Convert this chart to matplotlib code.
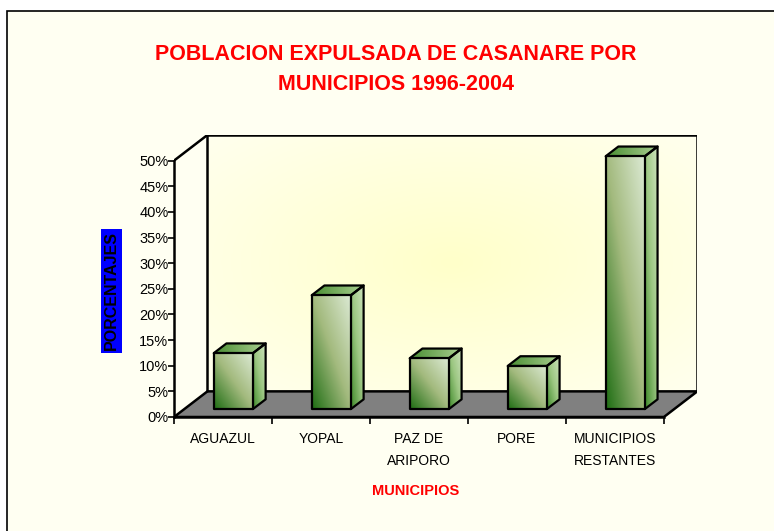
import numpy as np
import matplotlib.pyplot as plt
from matplotlib.patches import Polygon, Rectangle
from matplotlib.colors import LinearSegmentedColormap

# datos
categorias = ["AGUAZUL", "YOPAL", "PAZ DE\nARIPORO", "PORE", "MUNICIPIOS\nRESTANTES"]
porcentajes = [10.9, 22.2, 9.9, 8.4, 49.3]
ticks_y = list(range(0, 55, 5))
etiquetas_y = [f"{t}%" for t in ticks_y]

YMAX = 50
PROF_X = 0.341   # profundidad del piso en unidades de categoria
PROF_Y = 5.0     # profundidad del piso en unidades de %
ANCHO = 0.40
Z0, Z1 = 0.31, 0.69

plt.rcParams['font.family'] = ['Liberation Sans', 'DejaVu Sans']

cm_frente = LinearSegmentedColormap.from_list('frente', ['#1F6E14', '#A3BA7E', '#DDEBD6'])
cm_lado = LinearSegmentedColormap.from_list('lado', ['#3F8A2A', '#9CC782', '#CFE4BE'])
cm_techo = LinearSegmentedColormap.from_list('techo', ['#4A8E33', '#A9CF90'])
cm_pared = LinearSegmentedColormap.from_list('pared', ['#FFFFCA', '#FFFFEE'])


def proy(x, y, z):
    # proyeccion oblicua: z es la profundidad (0 frente, 1 fondo)
    return (x + PROF_X * z, y + PROF_Y * z)


def relleno(ax, pts, cmap, modo, zo):
    pts = np.array(pts)
    xmin, ymin = pts.min(axis=0)
    xmax, ymax = pts.max(axis=0)
    u, w = np.meshgrid(np.linspace(0, 1, 80), np.linspace(0, 1, 80))
    if modo == 'diag':
        g = 0.5 * (u + w)
    elif modo == 'vert':
        g = w
    else:
        g = u
    poly = Polygon(pts, closed=True, facecolor='none', edgecolor='black',
                   lw=1.6, joinstyle='round', zorder=zo + 0.5)
    ax.add_patch(poly)
    im = ax.imshow(g, extent=[xmin, xmax, ymin, ymax], origin='lower', cmap=cmap,
                   aspect='auto', zorder=zo, interpolation='bilinear')
    im.set_clip_path(poly)


fig = plt.figure(figsize=(7.74, 5.31), dpi=100)
fig.patch.set_facecolor('white')
fig.add_artist(Rectangle((7 / 774, -0.1), 1.2, 1 - 11 / 531 + 0.1, transform=fig.transFigure,
                         facecolor='#FFFFF2', edgecolor='black', lw=1.2, zorder=-10))

fig.text(396 / 774, 1 - 69.5 / 531, "POBLACION EXPULSADA DE CASANARE POR\nMUNICIPIOS 1996-2004",
         ha='center', va='center', color='#FF0000', fontsize=15.5, fontweight='bold',
         linespacing=1.6)

ax = fig.add_axes([174 / 774, 1 - 417 / 531, (697.3 - 174) / 774, (417 - 135) / 531])
ax.patch.set_visible(False)
n = len(categorias)

# pared del fondo con degradado radial
yy, xx = np.mgrid[-1:1:200j, -1:1:300j]
r = np.sqrt(xx ** 2 + yy ** 2) / np.sqrt(2)
ax.imshow(r, extent=[-0.5 + PROF_X, n - 0.5 + PROF_X, PROF_Y, YMAX + PROF_Y],
          origin='lower', cmap=cm_pared, aspect='auto', zorder=1)

# piso
piso = [proy(-0.5, 0, 0), proy(n - 0.5, 0, 0), proy(n - 0.5, 0, 1), proy(-0.5, 0, 1)]
ax.add_patch(Polygon(piso, closed=True, facecolor='#808080', edgecolor='black',
                     lw=1.8, zorder=2))

# bordes de paredes
bordes = [
    [proy(-0.5, YMAX, 0), proy(-0.5, YMAX, 1)],
    [proy(-0.5, 0, 1), proy(-0.5, YMAX, 1)],
    [proy(-0.5, YMAX, 1), proy(n - 0.5, YMAX, 1)],
    [proy(n - 0.5, 0, 1), proy(n - 0.5, YMAX, 1)],
]
for b in bordes:
    (xa, ya), (xb, yb) = b
    ax.plot([xa, xb], [ya, yb], color='black', lw=1.8, zorder=3, solid_capstyle='round')

# barras 3D
for i, v in enumerate(porcentajes):
    x0, x1 = i - ANCHO / 2, i + ANCHO / 2
    frente = [proy(x0, 0, Z0), proy(x1, 0, Z0), proy(x1, v, Z0), proy(x0, v, Z0)]
    lado = [proy(x1, 0, Z0), proy(x1, 0, Z1), proy(x1, v, Z1), proy(x1, v, Z0)]
    techo = [proy(x0, v, Z0), proy(x1, v, Z0), proy(x1, v, Z1), proy(x0, v, Z1)]
    relleno(ax, lado, cm_lado, 'diag', 4)
    relleno(ax, techo, cm_techo, 'horiz', 4)
    relleno(ax, frente, cm_frente, 'diag', 5)

ax.set_xlim(-0.5, n - 0.5 + PROF_X)
ax.set_ylim(0, YMAX + PROF_Y)

for s in ['top', 'right']:
    ax.spines[s].set_visible(False)
ax.spines['left'].set_bounds(0, YMAX)
ax.spines['bottom'].set_bounds(-0.5, n - 0.5)
for s in ['left', 'bottom']:
    ax.spines[s].set_linewidth(1.8)
    ax.spines[s].set_zorder(6)

ax.set_yticks(ticks_y, etiquetas_y)
ax.tick_params(axis='y', length=4, width=1.2, pad=0, labelsize=10.5)

ax.set_xticks(np.arange(-0.5, n, 1))
ax.set_xticklabels([])
ax.tick_params(axis='x', which='major', length=5, width=1.2)
ax.set_xticks(range(n), categorias, minor=True)
ax.tick_params(axis='x', which='minor', length=0, pad=11, labelsize=10)
for lbl in ax.get_xticklabels(minor=True):
    lbl.set_linespacing(1.7)
    lbl.set_verticalalignment('top')

ax.set_xlabel('MUNICIPIOS', color='#FF0000', fontweight='bold', fontsize=10.5)
ax.xaxis.set_label_coords((416 - 174) / 523.3, (417 - 491) / 282)
ax.xaxis.label.set_va('center')

ax.set_ylabel('PORCENTAJES', fontweight='bold', fontsize=11.5, color='black',
              bbox=dict(facecolor='#0000FF', edgecolor='none', pad=2.0))
ax.yaxis.set_label_coords((111.5 - 174) / 523.3, 24.6 / 55)
ax.yaxis.label.set_va('center')

fig.savefig('out.png', dpi=100)
